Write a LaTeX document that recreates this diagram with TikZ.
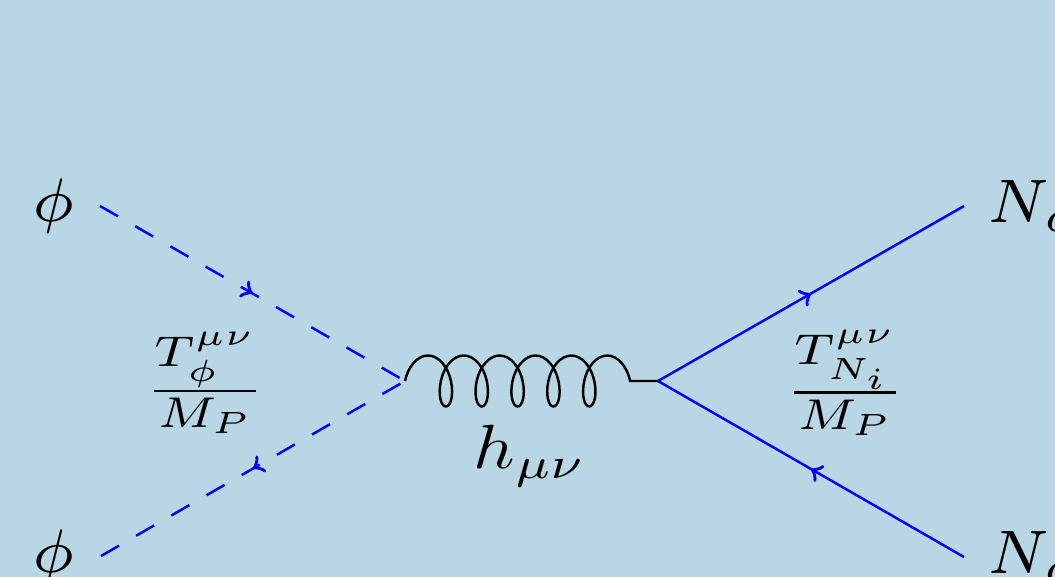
\documentclass[tikz,border=0pt]{standalone}
\usepackage{amsmath}
\usepackage{xcolor}
\usetikzlibrary{decorations.pathmorphing,decorations.markings,arrows}
\definecolor{bgblue}{RGB}{184,214,228}
\tikzset{
  fermion/.style={draw=blue, line width=1.4pt,
    postaction={decorate}, decoration={markings, mark=at position #1 with {\arrow[blue,solid,line width=1pt,scale=2]{to}}}},
  antifermion/.style={draw=blue, line width=1.4pt,
    postaction={decorate}, decoration={markings, mark=at position #1 with {\arrowreversed[blue,solid,line width=1pt,scale=2]{to}}}},
  dashline/.style={dash pattern=on 11.8pt off 11.3pt},
  gluon/.style={draw=black, line width=1.4pt, decorate,
    decoration={coil, aspect=0.55, amplitude=14.5pt, segment length=20.4pt, post length=0pt, pre length=0pt}},
  lab/.style={inner sep=0pt, scale=5},
  hlab/.style={inner sep=0pt, xscale=4.1, yscale=3.55},
  coupling/.style={inner sep=0pt, xscale=4.03, yscale=3.5},
}
\begin{document}
\begin{tikzpicture}[x=0.02cm,y=-0.02cm]
\path[use as bounding box, clip] (0,0) rectangle (1055,577);
\fill[bgblue] (0,0) rectangle (1055,577);
\coordinate (v1) at (405,381);
\coordinate (v2) at (658,381);
\coordinate (phia) at (100,206);
\coordinate (phib) at (101,556);
\coordinate (na) at (964,206);
\coordinate (nb) at (964,557);
\draw[fermion=0.5, dashline] (phia) -- (v1);
\draw[antifermion=0.5, dashline] (phib) -- (v1);
\draw[fermion=0.5] (v2) -- (na);
\draw[fermion=0.5] (nb) -- (v2);
\draw[gluon] (v1) -- (v2);
\node[lab] (lphia) at (54,206) {$\scriptstyle\phi$};
\node[lab] (lphib) at (54,557) {$\scriptstyle\phi$};
\node[lab, anchor=west] (lna) at (986,206) {$\scriptstyle N_a$};
\node[lab, anchor=west] (lnb) at (986,557) {$\scriptstyle N_a$};
\node[hlab] (lh) at (530,456) {$h_{\mu\nu}$};
\node[coupling] (tphi) at (205,383) {$\frac{T_\phi^{\mu\nu}}{M_P}$};
\node[coupling] (tn) at (845,383) {$\frac{T_{N_i}^{\mu\nu}}{M_P}$};
\end{tikzpicture}
\end{document}
